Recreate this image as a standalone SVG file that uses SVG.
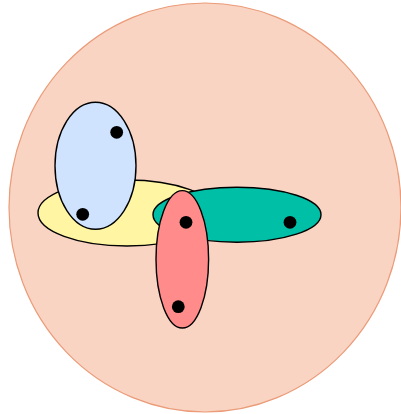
<svg xmlns="http://www.w3.org/2000/svg" width="401" height="414" viewBox="0 0 401 414">
<style>
.set{stroke:#000;stroke-width:1.4}
.dot{fill:#000}
</style>
<rect width="401" height="414" fill="#fff"/>
<g id="universe"><ellipse cx="205" cy="207.5" rx="196" ry="204.5" fill="#f9d4c3" stroke="#eb9b78" stroke-width="1.2"/></g>
<g id="yellow"><ellipse class="set" cx="127" cy="213" rx="89" ry="33" fill="#fff5a3"/></g>
<g id="blue"><ellipse class="set" cx="95.5" cy="165.8" rx="40.5" ry="63.5" fill="#cfe3ff"/></g>
<g id="teal"><ellipse class="set" cx="237" cy="214.7" rx="84" ry="27.5" fill="#00bfa7"/></g>
<g id="red"><ellipse class="set" cx="182.3" cy="259.3" rx="26.3" ry="68.7" fill="#ff8b8a"/></g>
<g id="points">
<circle class="dot" cx="116.7" cy="132.3" r="6.4"/>
<circle class="dot" cx="82.7" cy="214.3" r="6.4"/>
<circle class="dot" cx="186" cy="222.3" r="6.4"/>
<circle class="dot" cx="290" cy="222.3" r="6.4"/>
<circle class="dot" cx="178.3" cy="306.7" r="6.4"/>
</g>
</svg>
